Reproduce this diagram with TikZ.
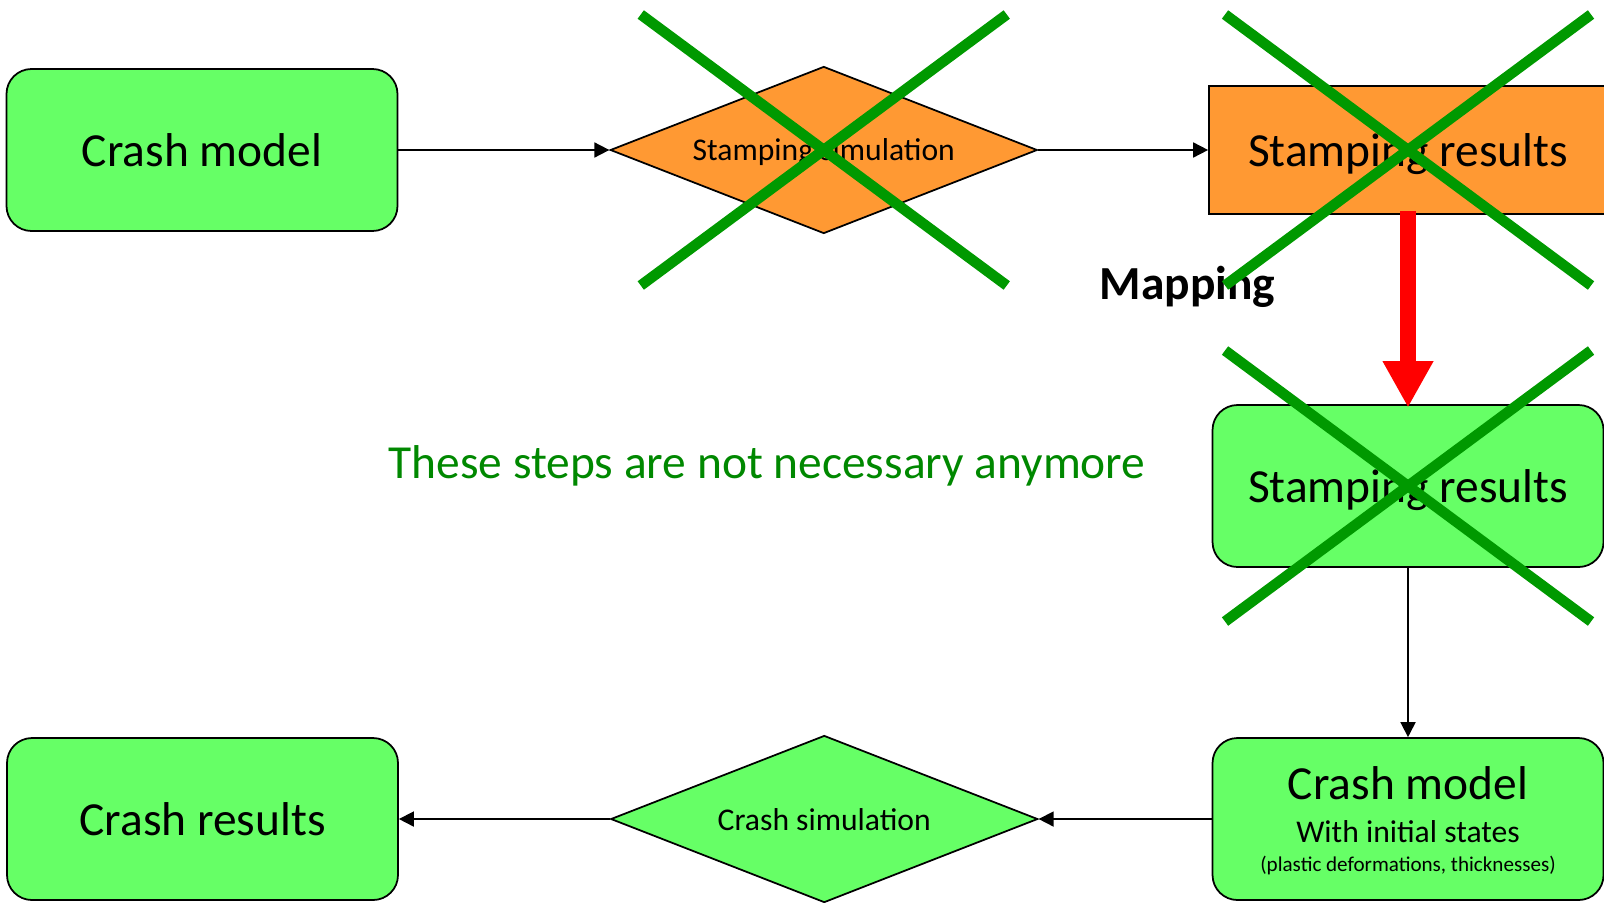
\documentclass[tikz,border=0pt]{standalone}
\usepackage{fontspec}
\setmainfont{Carlito}
\usepackage{tikz}
\usetikzlibrary{arrows.meta,positioning,shapes.geometric,calc}
\definecolor{boxgreen}{RGB}{102,255,102}
\definecolor{boxorange}{RGB}{255,153,51}
\definecolor{crossgreen}{RGB}{0,153,0}
\definecolor{notegreen}{RGB}{0,136,0}

\begin{document}
\begin{tikzpicture}[
    flow/.style={draw, line width=1pt, -{Triangle[length=0.3cm, width=0.3cm]}},
    process/.style={draw, line width=1pt, rounded corners=0.5cm, fill=boxgreen,
                    minimum width=7.82cm, minimum height=3.24cm, align=center,
                    text depth=0pt, font=\fontsize{27}{32}\selectfont},
    result/.style={draw, line width=1pt, fill=boxorange,
                   minimum width=7.96cm, minimum height=2.56cm,
                   text depth=0pt, font=\fontsize{27}{32}\selectfont},
    simulation/.style={draw, line width=1pt, diamond, aspect=2.56, inner sep=0pt,
                       minimum width=8.54cm, minimum height=3.34cm,
                       text depth=0pt, font=\fontsize{18}{22}\selectfont},
    mapping/.style={draw=red, line width=0.31cm,
                    -{Triangle[length=0.93cm, width=0.95cm]}},
    strike/.style={draw=crossgreen, line width=6pt},
]
    \useasboundingbox (0,0) rectangle (32.08,-18.04);

    \node[process] (crashmodel) at (4.04,-3.0) {Crash model};
    \node[simulation, fill=boxorange, right=4.22cm of crashmodel] (stampsim) {Stamping simulation};
    \node[result, right=3.4cm of stampsim] (stampres) {Stamping results};
    \node[process, below=3.785cm of stampres] (stampmap) {Stamping results};
    \node[process, below=3.385cm of stampmap, font=\fontsize{27}{16.5}\selectfont] (crashinit)
        {Crash model\\[8.5pt]
         \fontsize{18}{22}\selectfont With initial states\\
         \fontsize{12}{15}\selectfont (plastic deformations, thicknesses)};
    \node[simulation, fill=boxgreen, left=3.46cm of crashinit] (crashsim) {Crash simulation};
    \node[process, left=4.22cm of crashsim] (crashres) {Crash results};

    \draw[flow] (crashmodel) -- (stampsim);
    \draw[flow] (stampsim) -- (stampres);
    \draw[flow] (stampmap) -- (crashinit);
    \draw[flow] (crashinit) -- (crashsim);
    \draw[flow] (crashsim) -- (crashres);

    \draw[mapping, shorten <=-0.08cm, shorten >=-0.07cm] (stampres.south) -- (stampmap.north);
    \node[anchor=base, font=\bfseries\fontsize{27}{32}\selectfont] (maplabel) at (23.75,-5.98) {Mapping};
    \node[anchor=base, text=notegreen, font=\fontsize{27}{32}\selectfont] (note) at (15.34,-9.57)
        {These steps are not necessary anymore};

    \foreach \n in {stampsim,stampres,stampmap} {
        \draw[strike] ($(\n)+(-3.66,2.71)$) -- ($(\n)+(3.66,-2.71)$);
        \draw[strike] ($(\n)+(-3.66,-2.71)$) -- ($(\n)+(3.66,2.71)$);
    }
\end{tikzpicture}
\end{document}
